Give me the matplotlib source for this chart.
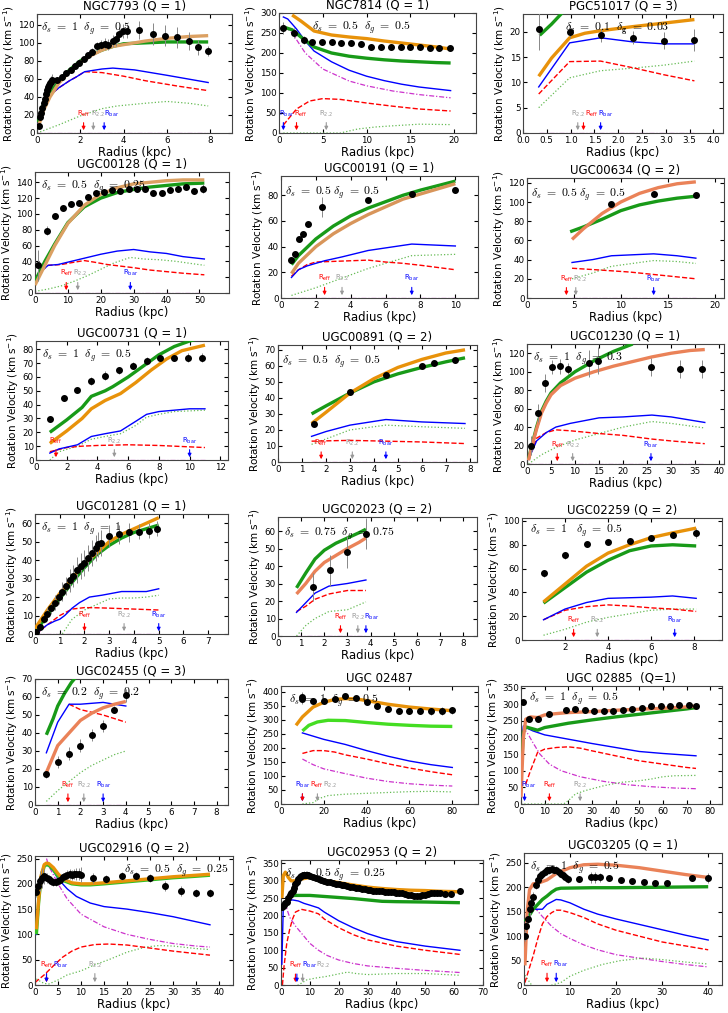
import matplotlib
matplotlib.use("Agg")
import matplotlib.pyplot as plt

plt.rcParams["font.family"] = ["DejaVu Sans"]

# ---- NGC7793 ----
n7793_r = [0.1, 0.15, 0.2, 0.25, 0.3, 0.35, 0.4, 0.45, 0.5, 0.55, 0.6, 0.65, 0.7, 0.9, 1.15, 1.35, 1.55, 1.75, 1.95,
           2.15, 2.35, 2.55, 2.75, 2.95, 3.15, 3.3, 3.5, 3.65, 3.8, 3.95, 4.15, 4.7, 5.35, 5.9, 6.45, 7.0, 7.45, 7.9]
n7793_v = [8, 18, 22, 28, 33, 38, 43, 48, 51, 53, 55, 57, 59, 59, 62, 66, 70, 74, 78, 82, 86, 90, 96, 98, 99, 98,
           102, 104, 110, 113, 113, 114, 110, 108, 106, 102, 95, 91]
n7793_e = [3, 4, 4, 4, 5, 5, 5, 5, 5, 6, 6, 6, 6, 3, 3, 3, 3, 3, 3, 3, 4, 4, 5, 5, 6, 6, 7, 8, 8, 8, 8, 10, 12, 12,
           12, 10, 8, 6]
n7793_tot = ([0.05, 0.3, 0.6, 1.0, 1.5, 2.0, 2.5, 3.0, 3.5, 4.0, 5.0, 6.0, 7.0, 7.9],
             [6, 25, 40, 55, 68, 78, 86, 92, 96, 98, 102, 105, 107, 108])
n7793_fit = ([0.05, 0.3, 0.6, 1.0, 1.5, 2.0, 2.5, 3.0, 3.5, 4.0, 5.0, 6.0, 7.0, 7.9],
             [12, 32, 45, 57, 70, 80, 87, 92, 96, 99, 100, 101, 101, 101])
n7793_bar = ([0.05, 0.5, 1.0, 1.5, 1.8, 2.2, 3.0, 3.5, 4.5, 6.0, 7.9], [10, 40, 50, 58, 62, 68, 71, 72, 70, 64, 56])
n7793_disk = ([0.05, 0.5, 1.0, 1.5, 1.8, 2.2, 3.0, 4.0, 5.0, 6.5, 7.9], [10, 40, 50, 58, 62, 68, 67, 63, 58, 52, 47])
n7793_gas = ([0.0, 1.0, 2.0, 3.0, 3.7, 5.0, 6.0, 7.0, 7.9], [0, 9, 19, 27, 30, 33, 35, 33, 30])
n7793_bulge = ([0.0, 7.9], [0, 0])
n7793_marks = [("eff", 2.15), ("22", 2.6), ("bar", 3.1)]

# ---- NGC7814 ----
n7814_r = [0.5, 1.7, 2.8, 3.8, 4.9, 6.0, 7.1, 8.2, 9.4, 10.5, 11.6, 12.8, 13.9, 15.0, 16.1, 17.2, 18.3, 19.5]
n7814_v = [263, 250, 233, 228, 227, 227, 226, 225, 222, 216, 214, 214, 214, 214, 214, 213, 213, 213]
n7814_e = [15, 12, 10, 8, 8, 4, 3, 3, 3, 3, 3, 3, 3, 3, 3, 3, 4, 5]
n7814_tot = ([1.5, 2.5, 4.0, 6.0, 8.0, 10.0, 12.0, 14.0, 16.0, 18.0, 19.6],
             [295, 280, 255, 245, 240, 236, 230, 225, 220, 215, 210])
n7814_fit = ([0.5, 1.5, 2.5, 4.0, 6.0, 8.0, 10.0, 12.0, 14.0, 16.0, 18.0, 19.6],
             [265, 258, 240, 215, 200, 192, 187, 183, 180, 178, 176, 175])
n7814_bar = ([0.5, 1.0, 2.0, 3.0, 4.0, 6.0, 8.0, 10.0, 12.0, 14.0, 16.0, 18.0, 19.6],
             [290, 285, 260, 230, 205, 178, 157, 142, 131, 122, 115, 110, 106])
n7814_disk = ([0.5, 2.0, 3.5, 5.0, 7.0, 10.0, 13.0, 16.0, 19.6], [20, 60, 80, 86, 84, 75, 67, 60, 55])
n7814_gas = ([0.5, 3.0, 7.0, 9.0, 11.0, 13.0, 16.0, 19.6], [0, 0, 0, 10, 15, 18, 22, 21])
n7814_bulge = ([0.5, 1.5, 3.0, 5.0, 8.0, 10.0, 13.0, 16.0, 19.6], [270, 250, 200, 160, 130, 118, 105, 96, 88])
n7814_marks = [("bar", 0.5), ("eff", 2.0), ("22", 5.4)]

# ---- PGC51017 ----
p51017_r = [0.33, 0.98, 1.63, 2.3, 2.96, 3.6]
p51017_v = [20.5, 20.0, 19.3, 18.8, 18.2, 18.3]
p51017_e = [4.2, 1.3, 1.3, 1.3, 1.7, 2.2]
p51017_tot = ([0.33, 0.6, 0.98, 1.3, 1.63, 2.3, 2.96, 3.6], [11.2, 14.8, 18.8, 19.7, 20.2, 21.0, 21.7, 22.4])
p51017_fit = ([0.35, 0.6, 0.9], [19.3, 21.5, 24.5])
p51017_bar = ([0.33, 0.98, 1.63, 2.3, 2.96, 3.6], [9.1, 17.8, 18.8, 18.0, 17.6, 17.6])
p51017_disk = ([0.33, 0.98, 1.63, 2.3, 2.96, 3.6], [7.7, 14.1, 14.2, 12.9, 11.5, 10.3])
p51017_gas = ([0.33, 0.98, 1.63, 2.3, 2.96, 3.6], [5.0, 10.9, 12.3, 12.8, 13.4, 14.2])
p51017_bulge = ([0.33, 3.6], [0, 0])
p51017_marks = [("22", 1.15), ("eff", 1.27), ("bar", 1.63)]

# ---- UGC00128 ----
u128_r = [1.0, 3.5, 6, 8.5, 11, 13.5, 16, 18.5, 21, 23.5, 26, 28.5, 31, 33.5, 36, 38.5, 41, 43.5, 46, 48.5, 51]
u128_v = [35, 79, 97, 108, 113, 114, 122, 126, 128, 130, 129, 131, 132, 131, 127, 127, 130, 132, 134, 129, 132]
u128_e = [20, 6, 3, 3, 3, 3, 3, 3, 3, 3, 3, 3, 3, 3, 3, 3, 3, 3, 3, 4, 6]
u128_tot = ([0, 3, 6, 10, 15, 20, 25, 30, 35, 40, 45, 51.5], [10, 35, 60, 88, 111, 125, 133, 138, 140, 142, 143, 143])
u128_fit = ([0, 3, 6, 10, 15, 20, 25, 30, 35, 40, 45, 51.5], [15, 40, 62, 89, 109, 120, 127, 131, 134, 136, 138, 139])
u128_bar = ([0, 2, 4, 7, 10, 13, 16, 20, 25, 30, 35, 40, 45, 51.5], [12, 28, 35, 36, 39, 42, 45, 49, 53, 55, 52, 50, 46, 43])
u128_disk = ([0, 2, 4, 8, 12, 15, 18, 22, 26, 30, 35, 40, 45, 51.5], [12, 28, 35, 36, 39, 41, 39, 36, 34, 32, 29, 27, 25, 23])
u128_gas = ([0, 4, 8, 12, 16, 20, 24, 29, 33, 38, 43, 48, 51.5], [2, 5, 9, 15, 22, 30, 38, 45, 43, 42, 40, 37, 35])
u128_bulge = ([0, 51.5], [0, 0])
u128_marks = [("eff", 9.5), ("22", 13.0), ("bar", 29.0)]

# ---- UGC00191 ----
u191_r = [0.6, 0.8, 1.05, 1.25, 1.55, 2.35, 5.0, 7.5, 10.0]
u191_v = [29.5, 34, 46, 49.5, 57.5, 71, 76.5, 81, 84]
u191_e = [1.5, 1.5, 1.5, 1.5, 2, 8, 1.5, 1.5, 1.5]
u191_tot = ([0.6, 1, 2, 3, 4, 5, 6, 7, 8, 9, 10], [19, 27, 40, 50, 58, 65, 71, 77, 81, 85, 89])
u191_fit = ([0.6, 1, 2, 3, 4, 5, 6, 7, 8, 9, 10], [26, 33, 46, 56, 64, 70, 75, 80, 84, 87.5, 91])
u191_bar = ([0.6, 1, 1.5, 2.5, 3.5, 5, 6, 7.5, 10], [16, 22, 25, 29, 32, 37, 39, 42, 40.5])
u191_disk = ([0.6, 1, 1.5, 2, 3, 4, 5, 6, 7, 8, 10], [17, 22, 26, 28, 28.5, 29, 29.5, 28, 27, 25.5, 22])
u191_gas = ([0.6, 2, 3, 4, 5, 6, 7, 7.5, 10], [2, 8, 13, 18, 23, 27, 31, 33, 34])
u191_bulge = ([0.6, 10], [0, 0])
u191_marks = [("eff", 2.5), ("22", 3.5), ("bar", 7.5)]

# ---- UGC00634 ----
u634_r = [9.0, 13.5, 18.0]
u634_v = [98, 108, 107.5]
u634_e = [2, 2, 2]
u634_tot = ([4.8, 6, 8, 10, 12, 14, 16, 18], [61, 72, 88, 100, 109, 115, 119, 121])
u634_fit = ([4.6, 6, 8, 10, 12, 14, 16, 18], [69, 74, 82, 91, 97, 101, 104, 106])
u634_bar = ([4.8, 7, 9, 13.5, 16, 18], [37, 40, 44, 46, 44, 41.5])
u634_disk = ([4.8, 8, 11, 14, 18], [31, 29, 27, 24, 20])
u634_gas = ([4.8, 7, 9, 13.5, 16, 18], [20, 26, 33, 39, 38, 36])
u634_bulge = ([4.8, 18], [0, 0])
u634_marks = [("eff", 4.2), ("22", 5.2), ("bar", 13.5)]

# ---- UGC00731 ----
u731_r = [0.9, 1.8, 2.7, 3.6, 4.5, 5.4, 6.3, 7.2, 8.1, 9.0, 9.9, 10.8]
u731_v = [29.5, 44.5, 50.5, 57, 61, 65, 68, 71.5, 73.5, 74, 74, 74]
u731_e = [2, 2, 2, 3, 3, 2.5, 2.5, 3, 2, 2, 3, 3]
u731_tot = ([0.9, 2, 3, 3.6, 4.5, 5.5, 6.5, 7.5, 8.5, 9.5, 11], [12, 21, 30, 37, 43, 48, 56, 65, 73, 79, 83])
u731_fit = ([0.9, 2, 3, 3.6, 4.5, 5, 6, 7, 8, 9, 10, 11], [20, 29, 38, 46, 50, 53, 60, 68, 76, 82, 86, 89])
u731_bar = ([0.9, 1.5, 2.7, 3.6, 4.5, 5.5, 6.5, 7.2, 8, 9, 10, 11], [5, 8, 11, 17, 19, 21, 28, 33, 35, 36, 37, 37])
u731_disk = ([0.9, 2, 3, 4, 6, 8, 10, 11], [6, 9, 10, 10.5, 11, 10.5, 9.5, 9])
u731_gas = ([0.9, 1.5, 2.7, 3.6, 4.5, 5.5, 6.5, 7.2, 8, 9, 10, 11], [0, 6, 10, 15, 17, 19, 25, 31, 33, 35, 35.5, 36])
u731_bulge = ([0.9, 11], [0, 0])
u731_marks = [("eff", 1.3), ("22", 5.1), ("bar", 10.0)]

# ---- UGC00891 ----
u891_r = [1.5, 3.0, 4.5, 6.0, 6.5, 7.4]
u891_v = [24, 43.5, 54, 60, 61.5, 63.5]
u891_e = [2, 1, 1, 1, 1, 1]
u891_tot = ([1.4, 2, 3, 4, 5, 6, 7, 7.8], [24, 31, 43, 52, 59, 64, 68, 70])
u891_fit = ([1.4, 2, 3, 4, 5, 6, 7, 7.8], [30, 35, 43, 50, 55, 59, 62.5, 65])
u891_bar = ([1.4, 2, 3, 4.5, 6, 7.8], [16, 19, 23, 26.5, 25, 24])
u891_disk = ([1.4, 3, 4.5, 6, 7.8], [13, 13.5, 13, 12.5, 11.5])
u891_gas = ([1.4, 3, 4.5, 6, 7.8], [11, 20, 23, 22, 21])
u891_bulge = ([1.4, 7.8], [0, 0])
u891_marks = [("eff", 1.8), ("22", 3.1), ("bar", 4.5)]

# ---- UGC01230 ----
u1230_r = [0.8, 2.3, 3.8, 5.3, 6.8, 8.5, 13.0, 14.8, 25.8, 31.8, 36.5]
u1230_v = [20, 55, 88, 105, 106, 103, 109, 112, 105, 103, 103]
u1230_e = [10, 10, 10, 8, 8, 6, 15, 15, 10, 10, 10]
u1230_tot = ([0.3, 1, 2, 3, 4, 5, 7, 10, 14, 18, 22, 26, 30, 34, 37],
             [4, 19, 38, 55, 66, 75, 85, 93, 100, 106, 111, 116, 120, 123, 124])
u1230_fit = ([0.3, 1, 2, 3, 4, 5, 7, 10, 14, 18, 22], [5, 20, 40, 57, 68, 77, 88, 100, 112, 122, 130])
u1230_bar = ([0.3, 2, 4, 6, 9, 15, 20, 26, 30, 37], [5, 25, 34, 40, 44, 50, 51, 53, 51, 45])
u1230_disk = ([0.3, 2, 4, 6, 9, 15, 20, 26, 30, 37], [5, 28, 34, 37, 36, 33, 31, 27, 25, 22])
u1230_gas = ([0.3, 3, 6, 10, 15, 20, 26, 30, 37], [0, 10, 18, 26, 33, 40, 46, 44, 39])
u1230_bulge = ([0.3, 37], [0, 0])
u1230_marks = [("eff", 6.3), ("22", 9.5), ("bar", 25.8)]

# ---- UGC01281 ----
u1281_r = [0.05, 0.2, 0.35, 0.5, 0.65, 0.8, 0.95, 1.1, 1.25, 1.4, 1.55, 1.7, 1.85, 2.0, 2.15, 2.3, 2.45, 2.55,
           2.65, 3.0, 3.4, 3.8, 4.2, 4.6, 4.95]
u1281_v = [1, 4, 8, 11, 14, 17, 20, 23, 26, 29, 31.5, 34.5, 37, 38.5, 41, 44, 46.5, 48.5, 49.5, 53, 54, 55, 55.5,
           56, 57]
u1281_e = [1, 2, 2, 3, 3, 4, 4, 5, 5, 6, 6, 7, 7, 7, 7, 7, 7, 7, 7, 6, 5, 5, 4, 4, 4]
u1281_tot = ([0, 0.5, 1, 1.5, 2, 2.5, 3, 3.5, 4, 4.5, 5], [3, 13, 22, 30, 38, 44, 50, 54, 57, 60, 63])
u1281_fit = ([0, 0.5, 1, 1.5, 2, 2.5, 3, 3.5, 4, 4.5, 5], [1, 10, 19, 28, 36, 43, 48, 52, 55, 57, 59])
u1281_bar = ([0.05, 0.3, 0.5, 0.8, 1.0, 1.2, 1.5, 1.8, 2.2, 2.7, 3.5, 4, 4.5, 5],
             [0, 3, 5, 7, 8, 10, 14, 17, 20, 21, 23, 23, 23, 24.5])
u1281_disk = ([0.05, 0.5, 0.8, 1.0, 1.5, 2.0, 2.5, 3, 4, 5], [0, 5, 8, 10, 13.5, 14.3, 14.2, 14, 13.5, 13])
u1281_gas = ([0.05, 0.3, 1.1, 1.5, 2, 2.5, 3, 3.5, 4, 4.5, 5], [0, -1, 0, 8, 13, 16, 19, 19.5, 19.5, 20, 21])
u1281_bulge = ([0.05, 5], [0, 0])
u1281_marks = [("eff", 2.0), ("22", 3.6), ("bar", 5.0)]

# ---- UGC02023 ----
u2023_r = [1.5, 2.25, 3.0, 3.8]
u2023_v = [28, 37.5, 48, 58.5]
u2023_e = [8, 9, 9, 9]
u2023_tot = ([0.8, 1.2, 1.6, 2, 2.5, 3, 3.5, 3.8], [24, 30, 37, 42, 46, 50, 53.5, 56])
u2023_fit = ([0.8, 1.2, 1.6, 2, 2.5, 3, 3.5, 3.8], [27.5, 36, 44, 49, 53, 56, 59, 61])
u2023_bar = ([0.8, 1.2, 1.6, 2.2, 3, 3.8], [13.5, 19, 24.5, 28.5, 30, 32])
u2023_disk = ([0.8, 1.2, 1.6, 2.2, 3, 3.8], [14, 17, 21, 24, 26, 26])
u2023_gas = ([0.8, 1.2, 1.6, 2.2, 3, 3.8], [0, 6, 10, 14, 15, 19.5])
u2023_bulge = ([0.8, 3.8], [0, 0])
u2023_marks = [("eff", 2.7), ("22", 3.45), ("bar", 3.8)]

# ---- UGC02259 ----
u2259_r = [1.0, 2.0, 3.0, 4.0, 5.0, 6.0, 7.0, 8.1]
u2259_v = [56, 71, 80.5, 82.5, 83.5, 85.5, 88, 90]
u2259_e = [3, 3, 2, 2, 2, 2, 2, 4]
u2259_tot = ([1, 2, 3, 4, 5, 6, 7, 8.1], [32, 47, 62, 73, 80, 86, 90, 94])
u2259_fit = ([1, 2, 3, 4, 5, 6, 7, 8.1], [31, 44, 57, 67, 75, 79, 80, 79])
u2259_bar = ([1, 2, 3, 4, 5, 6, 7, 8.1], [17, 26, 31.5, 35, 35.5, 36, 37, 35])
u2259_disk = ([1, 2, 3, 4, 5, 6, 7, 8.1], [17, 25, 28, 29.5, 28.5, 27, 26, 24])
u2259_gas = ([1, 2, 3, 4, 5, 6, 7, 8.1], [4, 9, 15, 19, 22, 25, 26, 26])
u2259_bulge = ([1, 8.1], [0, 0])
u2259_marks = [("eff", 2.4), ("22", 3.5), ("bar", 7.1)]

# ---- UGC02455 ----
u2455_r = [0.5, 1.0, 1.5, 2.0, 2.5, 3.0, 3.5, 4.0]
u2455_v = [17, 24, 28.5, 33, 39, 44, 53, 61]
u2455_e = [2, 3.5, 3.5, 3.5, 3.5, 3.5, 2, 3.5]
u2455_tot = ([0.5, 0.8, 1.0, 1.5, 2, 2.5, 3, 3.5, 4], [18, 27, 33, 40, 47, 51, 54, 56, 57.5])
u2455_fit = ([0.5, 0.8, 1.0, 1.3, 1.6, 1.8], [39, 48, 55, 62, 68, 71])
u2455_bar = ([0.5, 1.0, 1.5, 2, 3, 4], [29, 46, 56, 56, 57, 55])
u2455_disk = ([1.5, 2, 3, 4], [56, 53, 50, 46])
u2455_gas = ([0.5, 1, 1.5, 2, 2.5, 3, 3.5, 4], [2, 8, 13, 18, 22, 25, 28, 30])
u2455_bulge = ([0.5, 4], [0, 0])
u2455_marks = [("eff", 1.45), ("22", 2.15), ("bar", 3.0)]

# ---- UGC 02487 ----
u2487_r = [10, 10, 15, 20, 25, 30, 35, 40, 45, 50, 55, 60, 65, 70, 75, 80]
u2487_v = [375, 380, 367, 365, 375, 383, 379, 363, 350, 338, 332, 330, 330, 330, 332, 333]
u2487_e = [20, 20, 10, 8, 5, 5, 5, 8, 8, 8, 8, 8, 10, 12, 14, 14]
u2487_tot = ([7, 10, 15, 20, 25, 30, 35, 40, 50, 60, 70, 80], [280, 310, 345, 362, 372, 375, 374, 368, 355, 345, 338, 332])
u2487_fit = ([10, 13, 17, 22, 30, 40, 50, 60, 70, 80], [260, 280, 292, 298, 297, 290, 284, 280, 277, 276])
u2487_bar = ([10, 20, 30, 40, 50, 60, 70, 80], [253, 230, 212, 190, 170, 153, 140, 130])
u2487_disk = ([10, 15, 20, 25, 30, 40, 50, 60, 70, 80], [180, 190, 190, 185, 175, 160, 143, 128, 115, 104])
u2487_gas = ([10, 15, 18, 22, 30, 40, 50, 60, 70, 80], [0, 5, 20, 30, 35, 38, 41, 44, 45, 43])
u2487_bulge = ([10, 15, 20, 30, 40, 50, 60, 70, 80], [160, 140, 125, 108, 92, 80, 72, 67, 64])
u2487_marks = [("bar", 10.0), ("eff", 10.0), ("22", 17.0)]

# ---- UGC 02885 ----
u2885_r = [1, 3.5, 7, 12, 19, 23, 27, 31, 35, 39, 43, 47, 51, 55, 59, 63, 67, 71, 74]
u2885_v = [306, 256, 255, 272, 282, 285, 282, 280, 280, 280, 282, 285, 290, 295, 296, 296, 297, 298, 296]
u2885_e = [8, 8, 8, 8, 8, 8, 8, 8, 8, 8, 8, 8, 8, 8, 8, 8, 8, 8, 8]
u2885_tot = ([0, 1, 2, 4, 7, 10, 15, 20, 30, 40, 50, 60, 70, 74],
             [20, 200, 255, 262, 260, 268, 272, 275, 278, 282, 285, 288, 292, 295])
u2885_fit = ([0.5, 1, 2, 4, 7, 10, 20, 30, 40, 50, 60, 70, 74], [150, 215, 232, 228, 222, 230, 243, 253, 262, 270, 278, 286, 290])
u2885_bar = ([0.5, 1, 2, 5, 10, 20, 30, 40, 50, 60, 70, 74], [200, 235, 230, 220, 208, 195, 182, 170, 158, 152, 147, 145])
u2885_disk = ([2, 4, 7, 10, 15, 20, 25, 30, 40, 50, 60, 70, 74],
              [60, 100, 155, 165, 170, 172, 168, 160, 145, 130, 120, 110, 107])
u2885_gas = ([0, 18, 20, 23, 27, 35, 42, 50, 55, 60, 65, 74], [0, 0, 10, 30, 40, 55, 65, 70, 75, 82, 85, 86])
u2885_bulge = ([1, 3, 5, 8, 12, 17, 25, 35, 45, 55, 65, 74], [230, 210, 185, 150, 120, 100, 82, 68, 58, 52, 48, 46])
u2885_marks = [("bar", 1.5), ("eff", 12.0), ("22", 25.0)]

# ---- UGC02916 ----
u2916_r = [0.3, 0.6, 1, 1.5, 2, 2.5, 3, 3.5, 4, 4.5, 5, 5.5, 6, 6.5, 7, 7.5, 8, 8.5, 9, 9.5, 10, 12.5, 15.5, 19, 22,
           25, 28.3, 31.7, 35, 38]
u2916_v = [183, 196, 205, 212, 215, 212, 210, 205, 204, 203, 205, 208, 213, 215, 218, 219, 218, 219, 220, 220, 218,
           212, 209, 215, 215, 211, 196, 185, 182, 181]
u2916_e = [10, 15, 20, 20, 15, 10, 8, 8, 8, 8, 8, 8, 8, 8, 10, 10, 10, 10, 12, 12, 15, 10, 8, 8, 8, 8, 10, 10, 8, 8]
u2916_tot = ([0.3, 0.8, 1.3, 2, 2.5, 3, 4, 5, 6, 8, 10, 12, 15, 20, 25, 30, 35, 38],
             [110, 170, 215, 238, 241, 240, 232, 220, 210, 202, 200, 200, 202, 206, 210, 214, 217, 219])
u2916_fit = ([0.3, 0.8, 1.3, 2, 2.5, 3, 4, 5, 6, 8, 10, 12, 15, 20, 25, 30, 35, 38],
             [100, 165, 210, 235, 238, 237, 228, 215, 207, 200, 198, 198, 200, 204, 208, 212, 215, 217])
u2916_bar = ([0.3, 0.8, 1.3, 2, 2.5, 3, 4, 5, 7, 9, 12, 15, 20, 25, 30, 35, 38],
             [100, 170, 215, 233, 237, 235, 225, 210, 190, 175, 162, 155, 150, 143, 135, 125, 119])
u2916_disk = ([0, 2, 4, 6, 8, 10, 13, 16, 20, 25, 30, 35, 38], [5, 20, 38, 55, 67, 75, 80, 81, 79, 73, 67, 62, 59])
u2916_gas = ([0.3, 1, 2, 3, 4, 5, 7, 10, 13, 16, 20, 24, 27, 30, 35, 38],
             [12, 8, 3, 2, 6, 10, 20, 28, 40, 50, 65, 75, 78, 77, 72, 70])
u2916_bulge = ([2.5, 3, 5, 7, 10, 15, 20, 25, 30, 35, 38], [250, 235, 200, 170, 140, 115, 100, 90, 82, 77, 75])
u2916_marks = [("eff", 2.5), ("bar", 2.5), ("22", 13.0)]

# ---- UGC02953 ----
u2953_r = [0.3, 0.7, 1, 1.5, 2, 2.5, 3, 3.5, 4, 4.5, 5, 5.5, 6, 6.5, 7, 7.5, 8, 8.5, 9, 9.5, 10, 11, 12, 13, 14,
           15, 16, 17, 18, 19, 20, 21, 22, 23, 24, 25, 26, 27, 28, 29, 30, 31, 32, 33, 34, 35, 36, 37, 38, 39,
           40, 41, 42, 43, 44, 45, 46, 47, 48, 49, 50, 51, 52, 53, 54, 55, 57, 59, 62]
u2953_v = [225, 228, 230, 235, 240, 250, 258, 265, 272, 280, 290, 298, 305, 310, 313, 316, 318, 318, 318, 316,
           314, 311, 308, 306, 303, 300, 298, 296, 294, 292, 290, 288, 287, 285, 283, 281, 280, 278, 277, 276,
           275, 273, 272, 271, 270, 270, 269, 268, 267, 267, 266, 265, 264, 262, 260, 258, 256, 256, 256, 258,
           260, 262, 264, 265, 265, 264, 262, 262, 270]
u2953_e = [10, 10, 10, 10, 10, 10, 8, 8, 8, 8, 8, 8, 8, 8, 8, 8, 10, 10, 10, 10, 10, 8, 8, 8, 8, 6, 6, 6, 6, 6,
           6, 6, 6, 6, 6, 6, 6, 6, 6, 6, 6, 6, 6, 6, 6, 6, 6, 6, 6, 6, 6, 6, 6, 6, 6, 6, 6, 6, 6, 6, 6, 6, 6, 6,
           6, 6, 6, 6, 8]
u2953_tot = ([0.3, 0.8, 1.5, 2.5, 3.5, 5, 7, 10, 13, 16, 20, 25, 30, 35, 40, 45, 50, 55, 60, 62],
             [250, 315, 325, 310, 300, 300, 305, 310, 305, 300, 295, 288, 282, 278, 275, 273, 272, 270, 269, 268])
u2953_fit = ([3, 5, 10, 15, 20, 25, 30, 35, 40, 50, 62], [257, 258, 258, 255, 252, 249, 245, 241, 240, 239, 237])
u2953_bar = ([0.3, 0.8, 2, 4, 6, 8, 10, 13, 15, 20, 25, 30, 35, 40, 50, 62],
             [60, 230, 243, 245, 242, 235, 230, 222, 210, 185, 165, 148, 135, 125, 112, 100])
u2953_disk = ([0.5, 1, 2, 3, 4, 5, 7, 10, 13, 15, 20, 25, 30, 40, 50, 62],
              [0, 50, 120, 160, 190, 210, 218, 213, 205, 190, 165, 145, 130, 112, 100, 88])
u2953_gas = ([0.3, 3, 6, 9, 12, 16, 20, 23, 26, 30, 40, 50, 62], [0, -8, 0, 15, 20, 25, 32, 37, 33, 30, 33, 33, 28])
u2953_bulge = ([1, 2, 3, 5, 7, 10, 13, 16, 20, 25, 30, 40, 50, 62],
               [240, 220, 195, 170, 150, 120, 100, 85, 72, 62, 55, 48, 42, 36])
u2953_marks = [("eff", 5.0), ("bar", 5.5), ("22", 7.5)]

# ---- UGC03205 ----
u3205_r = [0.2, 0.5, 0.8, 1.2, 1.6, 2, 2.5, 3, 3.5, 4, 4.5, 5, 5.5, 6, 6.5, 7, 7.5, 8, 8.5, 9, 9.5, 12, 14.5,
           15.5, 16.5, 18.5, 21, 23.5, 26, 28.5, 31, 36.5, 40]
u3205_v = [100, 120, 135, 155, 168, 180, 205, 215, 223, 228, 232, 235, 236, 237, 236, 235, 232, 228, 224, 220,
           216, 217, 220, 220, 220, 218, 215, 213, 210, 208, 208, 219, 219]
u3205_e = [10, 10, 12, 15, 15, 10, 8, 8, 8, 8, 8, 8, 8, 8, 8, 8, 8, 8, 8, 8, 8, 4, 12, 12, 10, 4, 4, 4, 4, 4, 4,
           6, 10]
u3205_tot = ([0.2, 0.7, 1.2, 2, 3, 5, 7, 10, 13, 16, 20, 25, 30, 35, 40],
             [40, 150, 195, 207, 208, 215, 228, 240, 246, 247, 245, 240, 233, 226, 220])
u3205_fit = ([0.2, 1, 2, 3, 4, 5, 6, 7, 8, 15, 20, 30, 40], [130, 140, 155, 165, 175, 182, 190, 196, 198, 199, 199, 200, 201])
u3205_bar = ([0.2, 1, 2, 4, 5, 7, 8, 10, 13, 16, 20, 25, 30, 35, 40],
             [120, 145, 155, 155, 165, 175, 174, 168, 155, 145, 135, 124, 113, 102, 92])
u3205_disk = ([0.2, 1, 2, 3, 4, 5, 6, 7, 8, 10, 13, 16, 20, 25, 30, 35, 40],
              [5, 30, 60, 95, 125, 140, 148, 153, 153, 148, 138, 125, 112, 100, 88, 80, 72])
u3205_gas = ([0.2, 2, 5, 8, 10, 13, 17, 21, 26, 30, 35, 40], [20, -5, -3, 5, 18, 30, 42, 50, 55, 52, 47, 43])
u3205_bulge = ([0.5, 1, 2, 4, 6, 8, 10, 13, 16, 20, 25, 30, 35, 40],
               [130, 155, 162, 140, 120, 105, 95, 82, 72, 62, 55, 48, 42, 37])
u3205_marks = [("eff", 5.0), ("bar", 7.0)]

W, H = 728, 1013
ORANGE = "#e8920a"
TAN = "#dba062"
CORAL = "#ea8258"
GREEN = "#189a18"
LIME = "#44dd22"
MARK_COL = {"eff": "red", "22": "#999999", "bar": "blue"}
MARK_TXT = {"eff": r"R$_{\rm eff}$", "22": r"R$_{2.2}$", "bar": r"R$_{\rm bar}$"}

# title, key, axes box in pixels (left, top, right, bottom), xlim, xticks, ylim, yticks,
# total colour, fit colour, delta text, delta position
panels = [
    ("NGC7793 (Q = 1)", "n7793", (37, 14, 232, 133), (0, 9), range(0, 9, 2), (0, 132), range(0, 121, 20),
     TAN, GREEN, r"$\delta_s\ =\ 1\ \ \delta_g\ =\ 0.5$", (0.02, 0.95)),
    ("NGC7814 (Q = 1)", "n7814", (279, 13, 476, 133), (0, 22.5), range(0, 21, 5), (0, 300), range(0, 301, 50),
     ORANGE, GREEN, r"$\delta_s\ =\ 0.5\ \ \delta_g\ =\ 0.5$", (0.17, 0.95)),
    ("PGC51017 (Q = 3)", "p51017", (523, 14, 723, 133), (0, 4.2), [0, .5, 1, 1.5, 2, 2.5, 3, 3.5, 4], (0, 23.5),
     range(0, 21, 5), ORANGE, GREEN, r"$\mathbf{\delta_s\ =\ 0.1\ \ \delta_g\ =\ 0.03}$", (0.21, 0.95)),
    ("UGC00128 (Q = 1)", "u128", (35, 172, 229, 293), (0, 59), range(0, 51, 10), (0, 153), range(0, 141, 20),
     TAN, GREEN, r"$\delta_s\ =\ 0.5\ \ \delta_g\ =\ 0.25$", (0.03, 0.95)),
    ("UGC00191 (Q = 1)", "u191", (281, 176, 478, 298), (0, 11.3), range(0, 11, 2), (0, 95), range(0, 81, 20),
     "#d8955a", GREEN, r"$\delta_s\ =\ 0.5\ \delta_g\ =\ 0.5$", (0.02, 0.93)),
    ("UGC00634 (Q = 2)", "u634", (527, 178, 724, 298), (0, 21), range(0, 21, 5), (0, 125), range(0, 121, 20),
     CORAL, GREEN, r"$\delta_s\ =\ 0.5\ \delta_g\ =\ 0.5$", (0.02, 0.93)),
    ("UGC00731 (Q = 1)", "u731", (36, 341, 228, 460), (0, 12.5), range(0, 13, 2), (0, 86), range(0, 81, 10),
     ORANGE, GREEN, r"$\delta_s\ =\ 1\ \ \delta_g\ =\ 0.5$", (0.03, 0.95)),
    ("UGC00891 (Q = 2)", "u891", (278, 345, 477, 462), (0, 8.3), range(0, 9), (0, 73), range(0, 71, 10),
     ORANGE, GREEN, r"$\delta_s\ =\ 0.5\ \ \delta_g\ =\ 0.5$", (0.02, 0.93)),
    ("UGC01230 (Q = 1)", "u1230", (527, 344, 724, 464), (0, 41), range(0, 41, 5), (0, 130), range(0, 121, 20),
     CORAL, GREEN, r"$\delta_s\ =\ 1\ \ \delta_g\ =\ 0.3$", (0.03, 0.95)),
    ("UGC01281 (Q = 1)", "u1281", (35, 514, 228, 634), (0, 7.8), range(0, 8), (0, 65), range(0, 61, 10),
     ORANGE, GREEN, r"$\delta_s\ =\ 1\ \ \delta_g\ =\ 1$", (0.03, 0.95)),
    ("UGC02023 (Q = 2)", "u2023", (278, 517, 477, 636), (0, 8.6), range(0, 9), (0, 68), range(0, 61, 10),
     CORAL, GREEN, r"$\delta_s\ =\ 0.75\ \ \delta_g\ =\ 0.75$", (0.03, 0.93)),
    ("UGC02259 (Q = 2)", "u2259", (522, 518, 722, 640), (0, 9.3), range(2, 9, 2), (0, 102.5), range(0, 101, 20),
     ORANGE, GREEN, r"$\delta_s\ =\ 1\ \ \ \delta_g\ =\ 0.5$", (0.04, 0.96)),
    ("UGC02455 (Q = 3)", "u2455", (35, 679, 228, 805), (0, 8.5), range(0, 9), (0, 70), range(0, 71, 10),
     CORAL, GREEN, r"$\delta_s\ =\ 0.2\ \ \delta_g\ =\ 0.2$", (0.03, 0.95)),
    ("UGC 02487", "u2487", (281, 686, 478, 804), (0, 92), range(0, 81, 20), (0, 420), range(0, 401, 50),
     ORANGE, LIME, r"$\delta_s\ =\ 1\ \ \delta_g\ =\ 0.5$", (0.04, 0.95)),
    ("UGC 02885  (Q=1)", "u2885", (521, 686, 722, 804), (0, 85), range(0, 81, 10), (0, 355), range(0, 351, 50),
     CORAL, GREEN, r"$\delta_s\ =\ 1\ \ \delta_g\ =\ 0.5$", (0.04, 0.96)),
    ("UGC02916 (Q = 2)", "u2916", (35, 856, 233, 985), (0, 43), range(0, 41, 5), (0, 255), range(0, 251, 50),
     ORANGE, "#33c022", r"$\delta_s\ =\ 0.5\ \ \delta_g\ =\ 0.25$", (0.45, 0.95)),
    ("UGC02953 (Q = 2)", "u2953", (281, 860, 483, 985), (0, 70), range(0, 71, 10), (0, 360), range(0, 351, 50),
     ORANGE, GREEN, r"$\delta_s\ =\ 0.5\ \delta_g\ =\ 0.25$", (0.02, 0.95)),
    ("UGC03205 (Q = 1)", "u3205", (524, 853, 722, 985), (0, 43), range(0, 41, 10), (0, 270), range(0, 251, 50),
     CORAL, GREEN, r"$\delta_s\ =\ 1\ \ \delta_g\ =\ 0.5$", (0.03, 0.95)),
]

fig = plt.figure(figsize=(W / 100, H / 100), dpi=100)
g = globals()

for title, key, box, xlim, xticks, ylim, yticks, tcol, fcol, dtxt, dpos in panels:
    l, t, r, b = box
    ax = fig.add_axes([l / W, 1 - b / H, (r - l) / W, (b - t) / H])
    ax.set_xlim(xlim)
    ax.set_ylim(ylim)
    ax.set_xticks(list(xticks))
    ax.set_yticks(list(yticks))
    ax.tick_params(direction="in", top=True, right=True, labelsize=6.3, length=3, pad=1.5)
    ax.tick_params(axis="x", pad=2.5)
    for s in ax.spines.values():
        s.set_color("#444444")
        s.set_linewidth(0.8)

    bx, by = g[key + "_bulge"]
    ax.plot(bx, by, color="#cc33cc", ls=(0, (4, 1.5, 1, 1.5)), lw=0.9, zorder=2)
    gx, gy = g[key + "_gas"]
    ax.plot(gx, gy, color="#66bb55", ls=":", lw=0.9, zorder=2)
    dx, dy = g[key + "_disk"]
    ax.plot(dx, dy, color="red", ls="--", lw=1.0, zorder=2)
    rx, ry = g[key + "_bar"]
    ax.plot(rx, ry, color="blue", lw=1.0, zorder=3)
    fx, fy = g[key + "_fit"]
    ax.plot(fx, fy, color=fcol, lw=2.4, zorder=4, solid_capstyle="butt")
    tx, ty = g[key + "_tot"]
    ax.plot(tx, ty, color=tcol, lw=2.4, zorder=4, solid_capstyle="butt")

    ax.errorbar(g[key + "_r"], g[key + "_v"], yerr=g[key + "_e"], fmt="o", color="black", ms=4,
                ecolor="#888888", elinewidth=0.7, zorder=5)

    # radius markers: arrows, labels spread out in pixel space so they do not sit on each other
    yr = ylim[1] - ylim[0]
    marks = sorted(g[key + "_marks"], key=lambda m: m[1])
    to_px = ax.transData
    from_px = ax.transData.inverted()
    ax_left_px = to_px.transform((xlim[0], 0))[0]
    prev = -1e9
    for name, xm in marks:
        c = MARK_COL[name]
        ax.annotate("", xy=(xm, 0), xytext=(xm, 0.11 * yr),
                    arrowprops=dict(arrowstyle="-|>", color=c, lw=0.8, mutation_scale=5), zorder=6)
        px = max(to_px.transform((xm, 0))[0], ax_left_px + 8, prev + 14)
        prev = px
        lx = from_px.transform((px, 0))[0]
        ax.text(lx, 0.12 * yr, MARK_TXT[name], color=c, fontsize=5, ha="center", va="bottom", zorder=6)

    ax.text(dpos[0], dpos[1], dtxt, transform=ax.transAxes, fontsize=8.5, va="top", ha="left",
            math_fontfamily="cm", zorder=7)
    ax.set_title(title, fontsize=8.5, pad=3)
    ax.set_xlabel("Radius (kpc)", fontsize=8.5, labelpad=0.5)
    ax.set_ylabel(r"Rotation Velocity (km s$^{-1}$)", fontsize=7.5, labelpad=1)

fig.savefig("out.png", dpi=100)
